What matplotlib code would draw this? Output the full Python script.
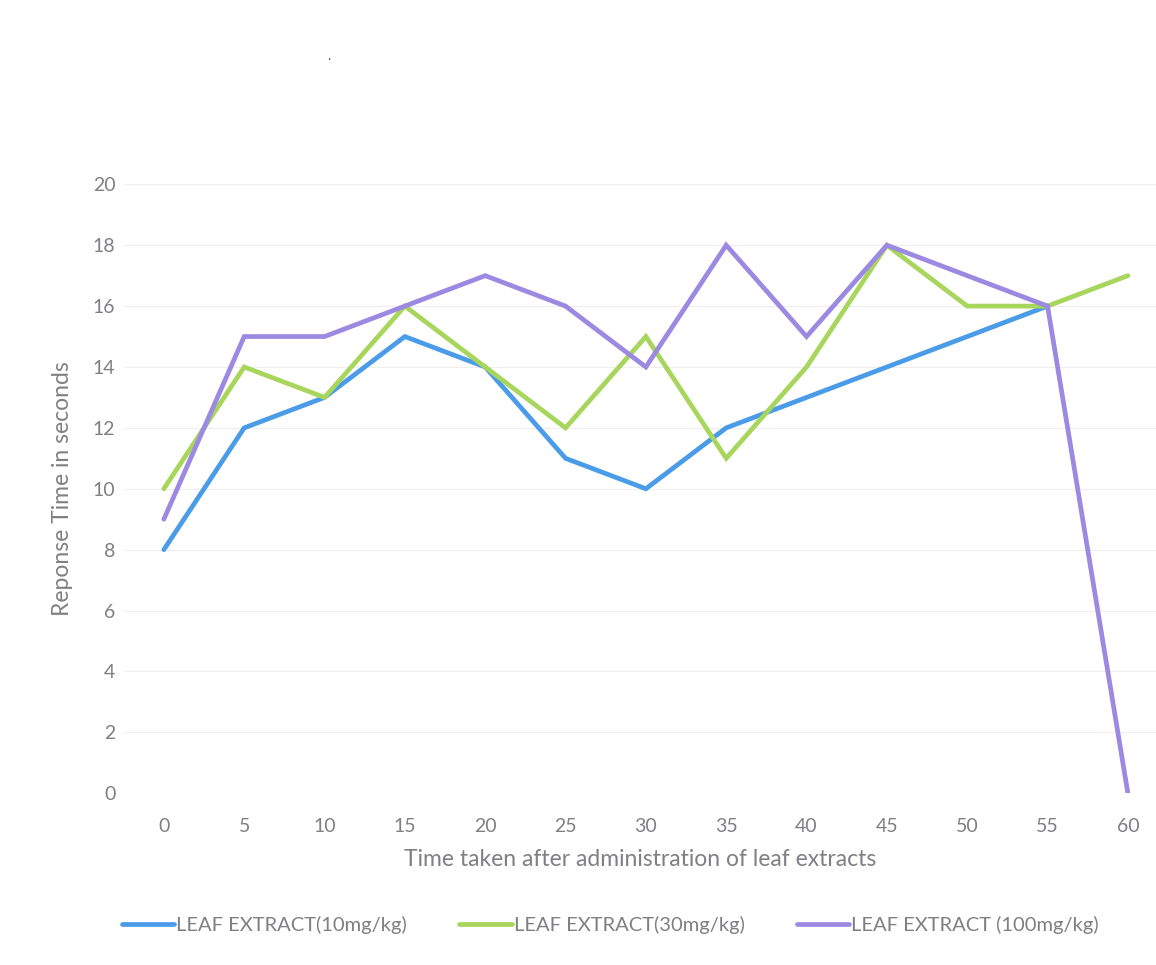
import numpy as np
import matplotlib.pyplot as plt

# Response time readings after administration of the leaf extracts
times = ['0', '5', '10', '15', '20', '25', '30', '35', '40', '45', '50', '55', '60']
extract_10 = [8, 12, 13, 15, 14, 11, 10, 12, 13, 14, 15, 16, np.nan]
extract_30 = [10, 14, 13, 16, 14, 12, 15, 11, 14, 18, 16, 16, 17]
extract_100 = [9, 15, 15, 16, 17, 16, 14, 18, 15, 18, 17, 16, 0]

labels = ['LEAF EXTRACT(10mg/kg)', 'LEAF EXTRACT(30mg/kg)', 'LEAF EXTRACT (100mg/kg)']
colors = ['#4a9be8', '#a8d65c', '#9b89e2']

plt.rcParams['font.family'] = ['Lato', 'DejaVu Sans']
text_color = '#7f7f85'

fig = plt.figure(figsize=(11.56, 9.65), dpi=100)
ax = fig.add_axes([0.107, 0.178, 0.893, 0.631])

x = np.arange(len(times))
for series, label, color in zip([extract_10, extract_30, extract_100], labels, colors):
    ax.plot(x, series, color=color, linewidth=3.4, label=label,
            solid_capstyle='round', solid_joinstyle='miter')

ax.set_xlim(-0.5, 12.35)
ax.set_ylim(0, 20)
ax.set_xticks(x)
ax.set_xticklabels(times)
ax.set_yticks(range(0, 21, 2))
ax.tick_params(length=0, labelsize=14, colors=text_color)
ax.tick_params(axis='x', pad=18)
ax.tick_params(axis='y', pad=6)
ax.grid(axis='y', color='#eeeeee', linewidth=0.8)
ax.set_axisbelow(True)
for side in ['top', 'right', 'left', 'bottom']:
    ax.spines[side].set_visible(False)

ax.set_xlabel('Time taken after administration of leaf extracts', fontsize=16.5,
              color=text_color, labelpad=10)
ax.set_ylabel('Reponse Time in seconds', fontsize=16.5, color=text_color, labelpad=14)

fig.legend(loc='center', bbox_to_anchor=(0.528, 0.041), ncol=3, frameon=False,
           fontsize=14.5, labelcolor=text_color, handlelength=2.6, handletextpad=0.1,
           columnspacing=2.6)

fig.text(0.283, 0.938, '.', fontsize=10, color='#555555')

fig.savefig('out.png', dpi=100, facecolor='white')
